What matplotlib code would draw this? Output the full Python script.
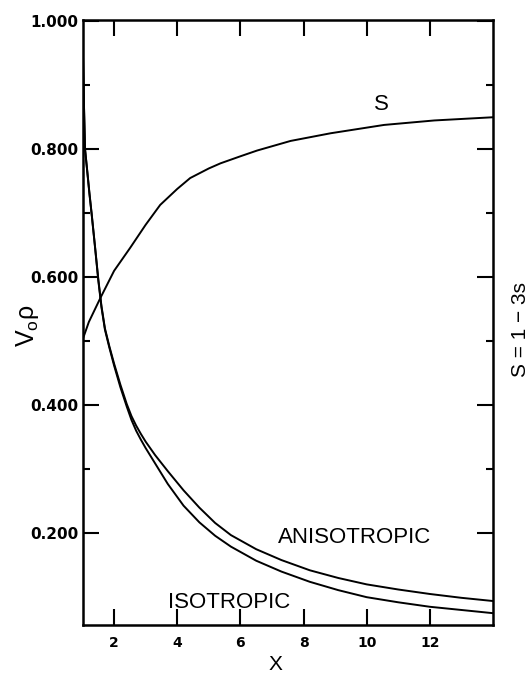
import matplotlib
matplotlib.use("Agg")
import matplotlib.pyplot as plt
from matplotlib.ticker import FixedLocator, FixedFormatter

# ---- data ----
x_iso = [1.0, 1.02, 1.05, 1.08, 1.15, 1.22, 1.29, 1.4, 1.5, 1.6, 1.71, 1.85, 2.0,
         2.2, 2.4, 2.55, 2.7, 2.85, 3.0, 3.3, 3.7, 4.2, 4.7, 5.2, 5.7, 6.5, 7.3,
         8.2, 9.1, 10.0, 11.0, 12.0, 13.0, 14.0]
y_iso = [1.0, 0.93, 0.86, 0.80, 0.765, 0.73, 0.698, 0.645, 0.595, 0.553, 0.518,
         0.49, 0.462, 0.428, 0.398, 0.377, 0.360, 0.346, 0.333, 0.309, 0.277,
         0.243, 0.217, 0.196, 0.179, 0.157, 0.140, 0.124, 0.111, 0.100, 0.092,
         0.085, 0.080, 0.075]

x_aniso = [1.0, 1.02, 1.05, 1.08, 1.15, 1.22, 1.29, 1.4, 1.5, 1.6, 1.71, 1.85, 2.0,
           2.2, 2.4, 2.55, 2.7, 2.85, 3.0, 3.3, 3.7, 4.2, 4.7, 5.2, 5.7, 6.5, 7.3,
           8.2, 9.1, 10.0, 11.0, 12.0, 13.0, 14.0]
y_aniso = [1.0, 0.93, 0.86, 0.80, 0.766, 0.731, 0.699, 0.646, 0.597, 0.555, 0.520,
           0.492, 0.465, 0.432, 0.402, 0.383, 0.368, 0.355, 0.343, 0.322, 0.297,
           0.267, 0.240, 0.216, 0.197, 0.175, 0.158, 0.142, 0.130, 0.120, 0.112,
           0.105, 0.099, 0.094]

x_S = [1.0, 1.2, 1.56, 2.0, 2.51, 3.0, 3.46, 4.0, 4.41, 5.0, 5.37, 6.0, 6.53,
       7.59, 8.86, 10.55, 12.14, 14.0]
y_S = [0.502, 0.530, 0.567, 0.610, 0.646, 0.682, 0.713, 0.738, 0.755, 0.770,
       0.778, 0.789, 0.798, 0.813, 0.825, 0.838, 0.845, 0.850]

xticks = [2, 4, 6, 8, 10, 12]
xtick_labels = ["2", "4", "6", "8", "10", "12"]
yticks = [0.2, 0.4, 0.6, 0.8, 1.0]
ytick_labels = ["0.200", "0.400", "0.600", "0.800", "1.000"]
yminor = [0.3, 0.5, 0.7, 0.9]

fig = plt.figure(figsize=(5.31, 6.73), dpi=100)
ax = fig.add_axes([0.1554, 0.0713, 0.9284 - 0.1554, 0.9703 - 0.0713])

lw = 1.4
ax.plot(x_iso, y_iso, color="black", lw=lw)
ax.plot(x_aniso, y_aniso, color="black", lw=lw)
ax.plot(x_S, y_S, color="black", lw=lw)

ax.set_xlim(1, 14)
ax.set_ylim(0.0565, 1.002)

for sp in ax.spines.values():
    sp.set_linewidth(1.8)

ax.xaxis.set_major_locator(FixedLocator(xticks))
ax.xaxis.set_major_formatter(FixedFormatter(xtick_labels))
ax.yaxis.set_major_locator(FixedLocator(yticks))
ax.yaxis.set_major_formatter(FixedFormatter(ytick_labels))
ax.yaxis.set_minor_locator(FixedLocator(yminor))

ax.tick_params(axis="both", which="major", direction="in", length=11.5, width=1.5,
               top=True, right=True, bottom=True, left=True)
ax.tick_params(axis="y", which="minor", direction="in", length=5, width=1.5,
               left=True, right=True)
ax.tick_params(axis="x", which="major", pad=8, labelsize=10)
ax.tick_params(axis="y", which="major", pad=3, labelsize=11)
for lab in ax.get_xticklabels() + ax.get_yticklabels():
    lab.set_fontweight("bold")
    lab.set_family("DejaVu Sans")

tf = dict(family="Liberation Sans", fontsize=16, ha="center", va="center")
ax.text(9.63, 0.194, "ANISOTROPIC", **tf)
ax.text(5.63, 0.0924, "ISOTROPIC", **tf)
ax.text(10.46, 0.870, "S", **tf)

fig.text(0.519, 0.0126, "X", family="Liberation Sans", fontsize=15,
         ha="center", va="center")
fig.text(0.052, 0.516, r"V$_{\mathregular{o}}$ρ", family="Liberation Sans",
         fontsize=18, rotation=90, ha="center", va="center")
fig.text(0.981, 0.5097, "S = 1 − 3s", family="Liberation Sans", fontsize=15,
         rotation=90, ha="center", va="center")

fig.savefig("out.png", dpi=100)
